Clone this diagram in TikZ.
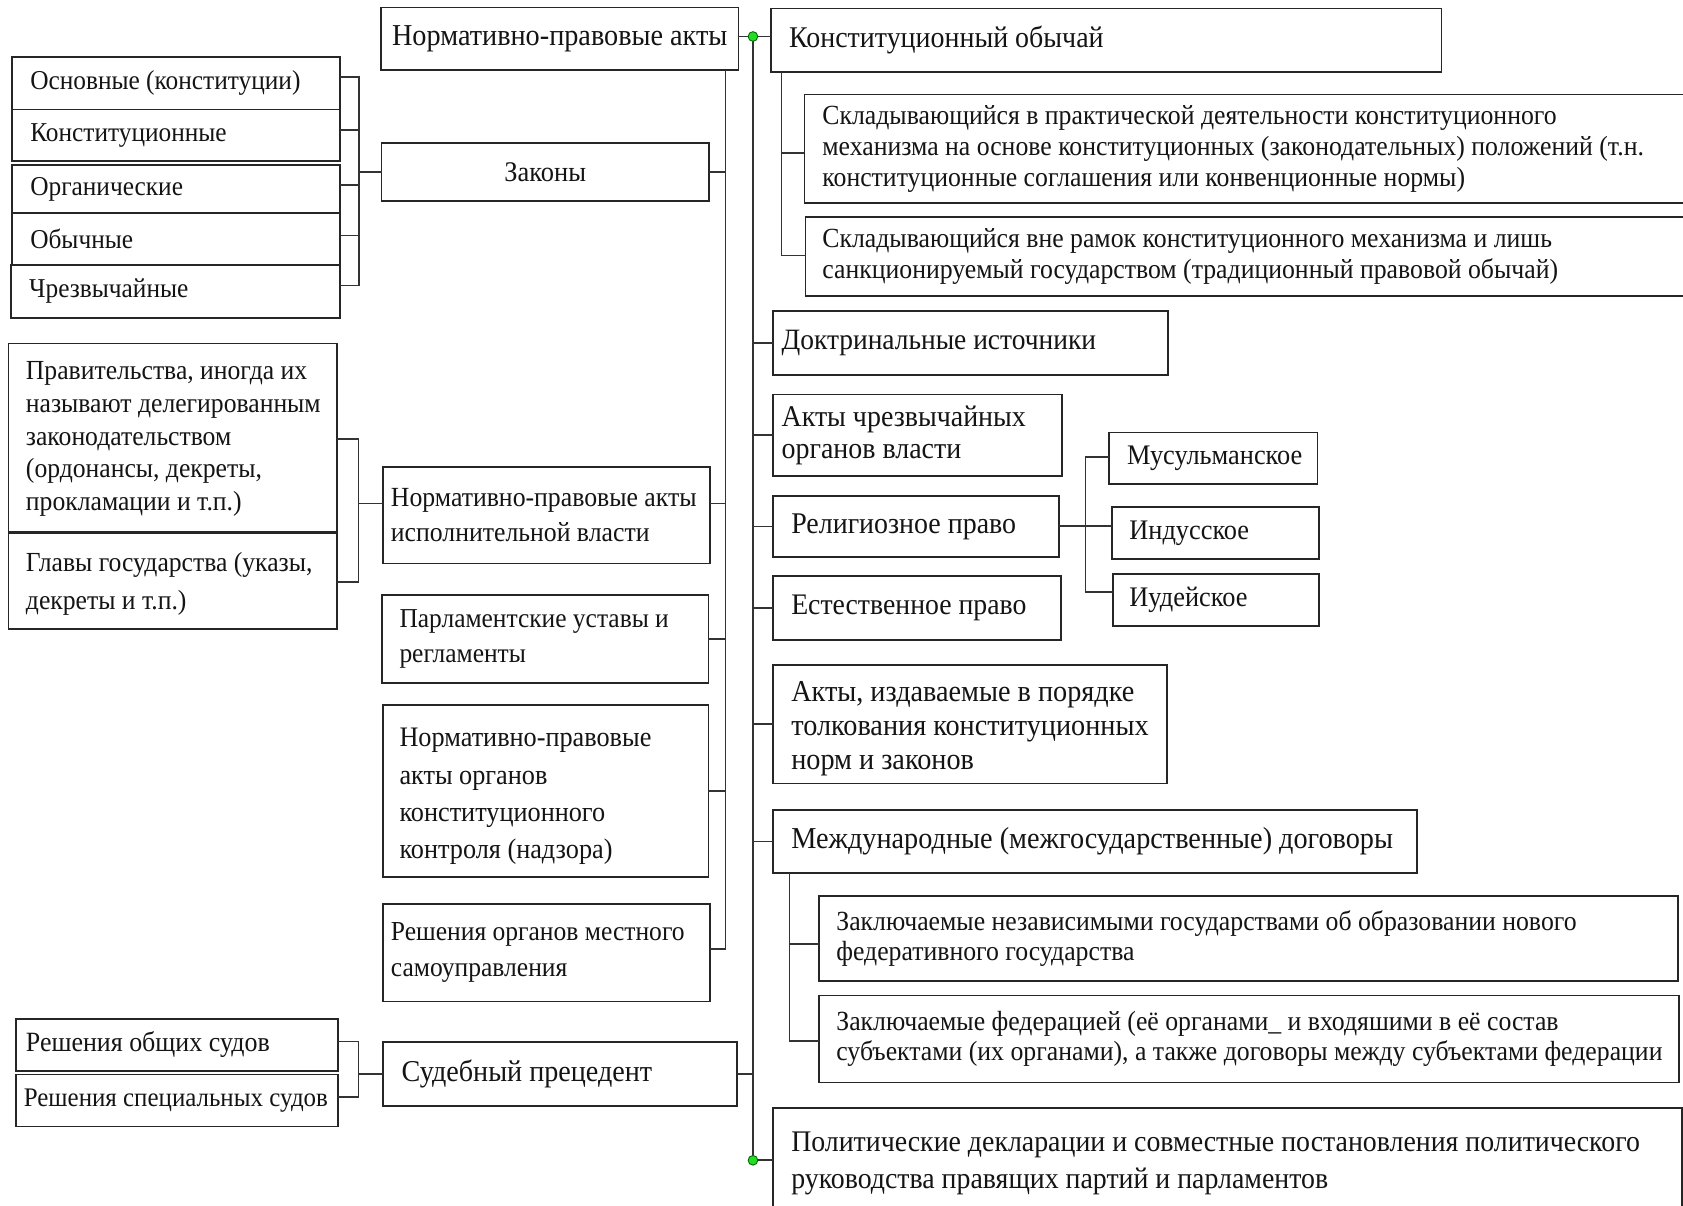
\documentclass[tikz,border=0pt]{standalone}
\usepackage{fontspec}
\setmainfont{Liberation Serif}[FakeStretch=0.93]
\usetikzlibrary{fit}
\definecolor{linec}{HTML}{333333}
\definecolor{boxc}{HTML}{262626}
\definecolor{textc}{HTML}{141414}
\definecolor{dotg}{HTML}{22DD22}
\newcommand\myfs[2]{\fontsize{#1}{#2}\selectfont}
\tikzset{
 box/.style={draw=boxc, line width=1.7pt, inner sep=0pt, outer sep=0pt, rectangle},
 txt/.style={anchor=west, inner sep=0pt, align=left, text=textc},
 conn/.style={draw=linec, line width=1.5pt},
 gdot/.style={circle, fill=dotg, draw=green!40!black, line width=0.8pt, minimum size=9pt, inner sep=0pt},
}
\begin{document}
\begin{tikzpicture}[x=1pt,y=-1pt]
\path[use as bounding box] (0,0) rectangle (1568,1123);
\clip (0,0) rectangle (1568,1123);
\fill[white] (0,0) rectangle (1568,1123);
% boxes
\node[box, fit={(355,7) (688,65)}] (npa) {};
\node[box, fit={(355.5,133) (660.5,187.5)}] (zak) {};
\node[box, fit={(11,53) (317,102)}] (osn) {};
\node[box, fit={(11,102) (317,150)}] (kon) {};
\node[box, fit={(11,154) (317,198.5)}] (org) {};
\node[box, fit={(11,198.5) (317,247)}] (obych) {};
\node[box, fit={(10,247) (317,296)}] (chr) {};
\node[box, fit={(8,320) (314,496)}] (gov) {};
\node[box, fit={(8,496) (314,586)}] (head) {};
\node[box, fit={(357,435) (661.5,525)}] (exe) {};
\node[box, fit={(356,554) (660,636.5)}] (parl) {};
\node[box, fit={(357,657) (660,817)}] (ccon) {};
\node[box, fit={(357,842) (661.5,933)}] (loc) {};
\node[box, fit={(15,949) (315,997.5)}] (gen) {};
\node[box, fit={(15,1001) (315,1049.5)}] (spec) {};
\node[box, fit={(357,971) (686.5,1030.5)}] (sud) {};
\node[box, fit={(718,8) (1343,67)}] (cust) {};
\node[box, fit={(749.5,88) (1600,189)}] (c1) {};
\node[box, fit={(750.5,202) (1600,275.5)}] (c2) {};
\node[box, fit={(720.5,290) (1088.5,349)}] (doc) {};
\node[box, fit={(720.5,367.5) (989.5,443.5)}] (emg) {};
\node[box, fit={(720.5,462) (987,519)}] (rel) {};
\node[box, fit={(1033.5,403) (1227.5,451)}] (mus) {};
\node[box, fit={(1036,472) (1229,521)}] (ind) {};
\node[box, fit={(1037,535) (1229,583)}] (jud) {};
\node[box, fit={(720.5,536.5) (988.5,596)}] (nat) {};
\node[box, fit={(720,619.5) (1087.5,730)}] (intp) {};
\node[box, fit={(720,754.5) (1320.5,813.5)}] (intl) {};
\node[box, fit={(763,835) (1563,914)}] (t1) {};
\node[box, fit={(763,927.5) (1564,1008.5)}] (t2) {};
\node[box, fit={(720.5,1032) (1567,1140)}] (pol) {};
\draw[boxc, line width=3pt] (gov.south west) -- (gov.south east);
% main trunk
\coordinate (d1) at (701.5,34);
\coordinate (d2) at (701.5,1081);
\draw[conn] (npa.east |- d1) -- (d1) -- (cust.west |- d1);
\draw[conn] (d1) -- (d2);
\foreach \b in {doc,emg,rel,nat,intp,intl} \draw[conn] (\b.west) -- (\b.west -| d1);
\draw[conn] (d2) -- (d2 -| pol.west);
\draw[conn] (sud.east) -- (sud.east -| d1);
% secondary trunk
\coordinate (v2t) at (676,65);
\coordinate (v2b) at (676,884);
\draw[conn] (v2t) -- (v2b);
\draw[conn] (zak.east) -- (zak.east -| v2t);
\draw[conn] (exe.east |- 0,469) -- (v2t |- 0,469);
\draw[conn] (parl.east) -- (parl.east -| v2t);
\draw[conn] (ccon.east) -- (ccon.east -| v2t);
\draw[conn] (loc.east |- v2b) -- (v2b);
% left bracket laws
\coordinate (b1t) at (334.7,72);
\coordinate (b1b) at (334.7,266);
\draw[conn] (osn.east |- b1t) -- (b1t) -- (b1b) -- (chr.east |- b1b);
\draw[conn] (kon.east |- 0,121) -- (b1t |- 0,121);
\draw[conn] (org.east |- 0,172.3) -- (b1t |- 0,172.3);
\draw[conn] (obych.east |- 0,219.5) -- (b1t |- 0,219.5);
\draw[conn] (b1t |- zak.west) -- (zak.west);
% left bracket executive
\coordinate (b2t) at (334.1,409);
\coordinate (b2b) at (334.1,542.5);
\draw[conn] (gov.east |- b2t) -- (b2t) -- (b2b) -- (head.east |- b2b);
\draw[conn] (b2t |- 0,469) -- (exe.west |- 0,469);
% left bracket courts
\coordinate (b3t) at (334.1,970.3);
\coordinate (b3b) at (334.1,1022.2);
\draw[conn] (gen.east |- b3t) -- (b3t) -- (b3b) -- (spec.east |- b3b);
\draw[conn] (b3t |- sud.west) -- (sud.west);
% custom bracket
\coordinate (cb) at (728,238);
\draw[conn] (cb |- cust.south) -- (cb) -- (cb -| c2.west);
\draw[conn] (cb |- 0,142.8) -- (c1.west |- 0,142.8);
% religion bracket
\coordinate (rt) at (1011.4,426);
\coordinate (rb) at (1011.4,551.5);
\draw[conn] (mus.west |- rt) -- (rt) -- (rb) -- (jud.west |- rb);
\draw[conn] (rel.east |- 0,490) -- (ind.west |- 0,490);
% treaties bracket
\coordinate (ib) at (735.4,970);
\draw[conn] (ib |- intl.south) -- (ib) -- (ib -| t2.west);
\draw[conn] (ib |- 0,879.7) -- (t1.west |- 0,879.7);
\node[gdot] (g1) at (d1) {};
\node[gdot] (g2) at (d2) {};
% texts
\node[txt, anchor=center, font=\myfs{28.3}{33}] (npa-t) at (npa.center) {Нормативно-правовые акты};
\node[txt, anchor=center, font=\myfs{26.5}{30}] (zak-t) at (zak.center) {Законы};
\node[txt, font=\myfs{25.4}{29}] (osn-t) at ([xshift=17pt]osn.west) {Основные (конституции)};
\node[txt, font=\myfs{25.4}{29}] (kon-t) at ([xshift=17pt]kon.west) {Конституционные};
\node[txt, font=\myfs{25.4}{29}] (org-t) at ([xshift=17pt]org.west) {Органические};
\node[txt, font=\myfs{25.4}{29}] (obych-t) at ([xshift=17pt]obych.west) {Обычные};
\node[txt, font=\myfs{25.4}{29}] (chr-t) at ([xshift=17pt]chr.west) {Чрезвычайные};
\node[txt, font=\myfs{25.7}{30.6}] (gov-t) at ([xshift=16pt,yshift=-1pt]gov.west) {Правительства, иногда их\\называют делегированным\\законодательством\\(ордонансы, декреты,\\прокламации и т.п.)};
\node[txt, font=\myfs{25.7}{35}] (head-t) at ([xshift=16pt,yshift=-3pt]head.west) {Главы государства (указы,\\декреты и т.п.)};
\node[txt, font=\myfs{25.8}{32}] (exe-t) at ([xshift=7pt]exe.west) {Нормативно-правовые акты\\исполнительной власти};
\node[txt, font=\myfs{25.5}{33}] (parl-t) at ([xshift=16pt]parl.west) {Парламентские уставы и\\регламенты};
\node[txt, font=\myfs{26.3}{34.7}] (ccon-t) at ([xshift=15pt,yshift=-5pt]ccon.west) {Нормативно-правовые\\акты органов\\конституционного\\контроля (надзора)};
\node[txt, font=\myfs{25.6}{33}] (loc-t) at ([xshift=7pt]loc.west) {Решения органов местного\\самоуправления};
\node[txt, font=\myfs{26}{29}] (gen-t) at ([xshift=9pt]gen.west) {Решения общих судов};
\node[txt, font=\myfs{25}{29}] (spec-t) at ([xshift=7pt]spec.west) {Решения специальных судов};
\node[txt, font=\myfs{28.2}{32}] (sud-t) at ([xshift=17pt]sud.west) {Судебный прецедент};
\node[txt, font=\myfs{28}{32}] (cust-t) at ([xshift=17pt]cust.west) {Конституционный обычай};
\node[txt, font=\myfs{25.8}{29}] (c1-t) at ([xshift=16.5pt]c1.west) {Складывающийся в практической деятельности конституционного\\механизма на основе конституционных (законодательных) положений (т.н.\\конституционные соглашения или конвенционные нормы)};
\node[txt, font=\myfs{25.8}{29}] (c2-t) at ([xshift=15.5pt]c2.west) {Складывающийся вне рамок конституционного механизма и лишь\\санкционируемый государством (традиционный правовой обычай)};
\node[txt, font=\myfs{27.5}{32}] (doc-t) at ([xshift=7.5pt]doc.west) {Доктринальные источники};
\node[txt, font=\myfs{28}{30}] (emg-t) at ([xshift=7.5pt]emg.west) {Акты чрезвычайных\\органов власти};
\node[txt, font=\myfs{28}{32}] (rel-t) at ([xshift=16.5pt]rel.west) {Религиозное право};
\node[txt, font=\myfs{27.8}{32}] (nat-t) at ([xshift=16.5pt]nat.west) {Естественное право};
\node[txt, font=\myfs{26.4}{29}] (mus-t) at ([xshift=16.5pt]mus.west) {Мусульманское};
\node[txt, font=\myfs{26.4}{29}] (ind-t) at ([xshift=16pt]ind.west) {Индусское};
\node[txt, font=\myfs{26.4}{29}] (jud-t) at ([xshift=15pt]jud.west) {Иудейское};
\node[txt, font=\myfs{28.3}{31.5}] (intp-t) at ([xshift=17pt,yshift=-4pt]intp.west) {Акты, издаваемые в порядке\\толкования конституционных\\норм и законов};
\node[txt, font=\myfs{28.3}{32}] (intl-t) at ([xshift=17pt]intl.west) {Международные (межгосударственные) договоры};
\node[txt, font=\myfs{25.8}{28.5}] (t1-t) at ([xshift=16pt]t1.west) {Заключаемые независимыми государствами об образовании нового\\федеративного государства};
\node[txt, font=\myfs{25.8}{28.5}] (t2-t) at ([xshift=16pt]t2.west) {Заключаемые федерацией (её органами\_ и входяшими в её состав\\субъектами (их органами), а также договоры между субъектами федерации};
\node[txt, font=\myfs{27.9}{35}] (pol-t) at ([xshift=16.5pt,yshift=-3pt]d2 -| pol.west) {Политические декларации и совместные постановления политического\\руководства правящих партий и парламентов};
\end{tikzpicture}
\end{document}
